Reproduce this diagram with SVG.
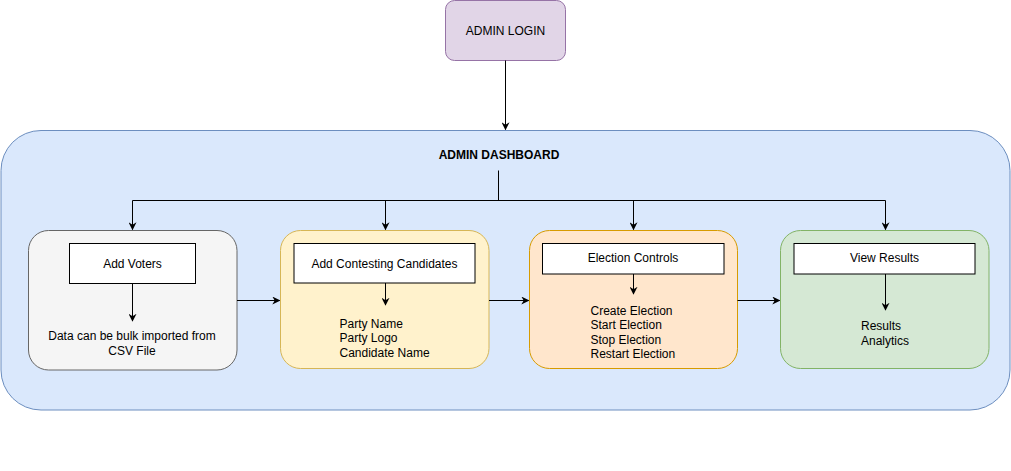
<svg xmlns="http://www.w3.org/2000/svg" width="1011" height="471" viewBox="0 0 1011 471">
<style>
text{font-family:"Liberation Sans",Arial,sans-serif;font-size:12px;fill:#000}
.c{text-anchor:middle}
.e{fill:none;stroke:#000;stroke-width:1}
.inner{fill:#fff;stroke:#000;stroke-width:1}
</style>
<defs>
<marker id="a" viewBox="0 0 10 10" refX="9" refY="5" markerWidth="8" markerHeight="8" markerUnits="userSpaceOnUse" orient="auto">
<path d="M0,0 L10,5 L0,10 L3,5 Z" fill="#000"/>
</marker>
</defs>
<rect width="1011" height="471" fill="#fff"/>
<g id="dashboard">
<rect x="1" y="130.5" width="1009" height="279.5" rx="40" fill="#dae8fc" stroke="#6c8ebf"/>
<text x="499" y="159" class="c" font-weight="bold">ADMIN DASHBOARD</text>
</g>
<g id="admin-login">
<rect x="445.5" y="0.5" width="120" height="60" rx="9" fill="#e1d5e7" stroke="#9673a6"/>
<text x="505.5" y="34.5" class="c">ADMIN LOGIN</text>
</g>
<g id="add-voters">
<rect x="28.5" y="230.5" width="208.5" height="139.5" rx="20" fill="#f5f5f5" stroke="#666666"/>
<rect class="inner" x="69.5" y="243.5" width="126" height="40"/>
<text x="132.5" y="267.5" class="c">Add Voters</text>
<text x="132" y="340" class="c">Data can be bulk imported from</text>
<text x="132" y="354.5" class="c">CSV File</text>
</g>
<g id="add-candidates">
<rect x="280.5" y="230.5" width="208.5" height="138" rx="20" fill="#fff2cc" stroke="#d6b656"/>
<rect class="inner" x="294" y="243.5" width="181" height="39.5"/>
<text x="384.5" y="267.5" class="c">Add Contesting Candidates</text>
<text x="339.5" y="327.5">Party Name</text>
<text x="339.5" y="342">Party Logo</text>
<text x="339.5" y="356.5">Candidate Name</text>
</g>
<g id="election-controls">
<rect x="529.5" y="230.5" width="208" height="138" rx="20" fill="#ffe6cc" stroke="#d79b00"/>
<rect class="inner" x="542.5" y="243.5" width="181.5" height="30.5"/>
<text x="633" y="262" class="c">Election Controls</text>
<text x="590.5" y="315">Create Election</text>
<text x="590.5" y="329">Start Election</text>
<text x="590.5" y="344">Stop Election</text>
<text x="590.5" y="358">Restart Election</text>
</g>
<g id="view-results">
<rect x="780.5" y="230.5" width="208.5" height="138" rx="20" fill="#d5e8d4" stroke="#82b366"/>
<rect class="inner" x="794" y="243.5" width="181" height="30.5"/>
<text x="884.5" y="262" class="c">View Results</text>
<text x="861" y="330">Results</text>
<text x="861" y="345">Analytics</text>
</g>
<g id="connectors">
<path class="e" d="M505.5,60.5 V129.5" marker-end="url(#a)"/>
<path class="e" d="M498.5,170.5 V200.5"/>
<path class="e" d="M132.5,200.5 H885.5"/>
<path class="e" d="M132.5,200.5 V229.5" marker-end="url(#a)"/>
<path class="e" d="M385.5,200.5 V229.5" marker-end="url(#a)"/>
<path class="e" d="M633.5,200.5 V229.5" marker-end="url(#a)"/>
<path class="e" d="M885.5,200.5 V229.5" marker-end="url(#a)"/>
<path class="e" d="M132.5,283.5 V321" marker-end="url(#a)"/>
<path class="e" d="M385.5,283 V305" marker-end="url(#a)"/>
<path class="e" d="M633.5,274 V294" marker-end="url(#a)"/>
<path class="e" d="M885.5,274 V310" marker-end="url(#a)"/>
<path class="e" d="M237,300.5 H279.5" marker-end="url(#a)"/>
<path class="e" d="M489,300.5 H528.5" marker-end="url(#a)"/>
<path class="e" d="M737.5,300.5 H779.5" marker-end="url(#a)"/>
</g>
</svg>
